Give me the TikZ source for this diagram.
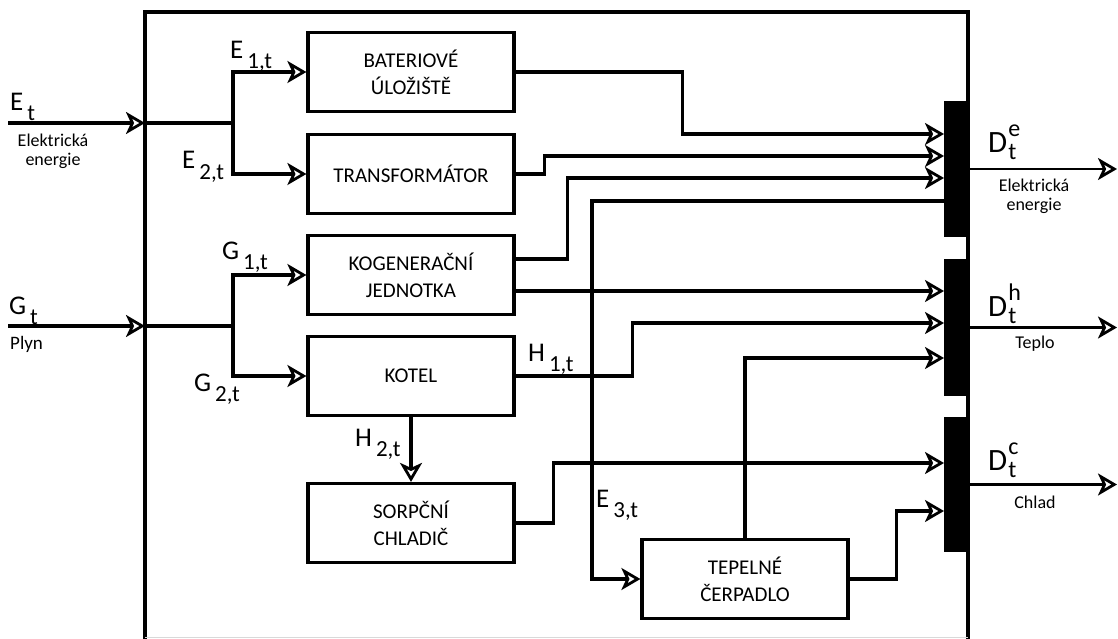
\documentclass[tikz,border=0pt]{standalone}
\usepackage{fontspec}
\setmainfont{Carlito}
\usetikzlibrary{arrows.meta}
\newcommand{\sublab}[2]{{\fontsize{27}{27}\selectfont #1}\hspace{4pt}\raisebox{-10pt}{\fontsize{23}{23}\selectfont #2}}
\newcommand{\dlab}[1]{{\fontsize{31}{31}\selectfont D}\hspace{1pt}\rlap{\raisebox{16pt}{\fontsize{24}{24}\selectfont #1}}\raisebox{-7pt}{\fontsize{24}{24}\selectfont t}}
\begin{document}
\begin{tikzpicture}[x=1pt,y=-1pt,line join=miter,
  box/.style={draw, line width=3.2pt, minimum width=206pt, minimum height=79pt, inner sep=0pt, align=center, font=\fontsize{21}{27}\selectfont},
  bar/.style={fill=black, draw=none, inner sep=0pt, minimum width=24pt},
  tip/.style={-{Stealth[open, length=19pt, width=22pt, inset=5pt, line width=2.8pt]}},
  conn/.style={line width=3.2pt, tip},
  wire/.style={line width=3.2pt},
  outarr/.style={line width=2.6pt, -{Stealth[open, length=19pt, width=22pt, inset=5pt, line width=2.8pt]}},
  lab/.style={inner sep=0pt, anchor=base west},
  small/.style={font=\fontsize{18}{19}\selectfont, align=center, inner sep=0pt, anchor=base}
]
\useasboundingbox (0,0) rectangle (1118,639);
% frame
\draw[wire] (145,639) -- (145,12) -- (968,12) -- (968,639);
\draw[gray!30, line width=1pt] (145,637.5) -- (968,637.5);
% bus bars
\node[bar, minimum height=136pt] (elbar) at (956,169) {};
\node[bar, minimum height=137pt] (heatbar) at (956,327.5) {};
\node[bar, minimum height=135pt] (coldbar) at (956,484.5) {};
% boxes
\node[box] (bat) at (411,72) {BATERIOVÉ\\ÚLOŽIŠTĚ};
\node[box] (trans) at (411,174) {TRANSFORMÁTOR};
\node[box] (kogen) at (411,275) {KOGENERAČNÍ\\JEDNOTKA};
\node[box] (kotel) at (411,376) {KOTEL};
\node[box] (sorp) at (411,523) {SORPČNÍ\\CHLADIČ};
\node[box] (tep) at (745,579) {TEPELNÉ\\ČERPADLO};
% coordinates
\coordinate (ein) at (8,123);
\coordinate (fE) at (145,123);
\coordinate (jE) at (233,123);
\coordinate (gin) at (8,326);
\coordinate (fG) at (145,326);
\coordinate (jG) at (233,326);
\coordinate (e1) at (944,134);
\coordinate (e2) at (944,156);
\coordinate (e3) at (944,178);
\coordinate (e4) at (944,201);
\coordinate (h1) at (944,291);
\coordinate (h2) at (944,323);
\coordinate (h3) at (944,358);
\coordinate (c1) at (944,463);
\coordinate (c2) at (944,511);
\coordinate (oe) at (1117,169);
\coordinate (oh) at (1117,327.5);
\coordinate (oc) at (1117,484.5);
% inputs
\draw[conn] (ein) -- (fE);
\draw[wire] (fE) -- (jE);
\draw[conn] (jE) |- (bat.west);
\draw[conn] (jE) |- (trans.west);
\draw[conn] (gin) -- (fG);
\draw[wire] (fG) -- (jG);
\draw[conn] (jG) |- (kogen.west);
\draw[conn] (jG) |- (kotel.west);
% internal
\draw[conn] (bat.east) -- ++(167,0) |- (e1);
\draw[conn] (trans.east) -- ++(29,0) |- (e2);
\draw[conn] ([yshift=16pt]kogen.east) -- ++(52,0) |- (e3);
\draw[wire, tip] (e4) -- ++(-352,0) |- (tep.west);
\draw[conn] ([yshift=-16pt]kogen.east) -- (h1);
\draw[conn] (kotel.east) -- ++(117,0) |- (h2);
\draw[conn] (tep.north) |- (h3);
\draw[conn] (kotel.south) -- (sorp.north);
\draw[conn] (sorp.east) -- ++(38,0) |- (c1);
\draw[conn] (tep.east) -- ++(47,0) |- (c2);
% outputs
\draw[outarr] (elbar.east) -- (oe);
\draw[outarr] (heatbar.east) -- (oh);
\draw[outarr] (coldbar.east) -- (oc);
% labels
\node[lab] (lEt) at (10,111) {\sublab{E}{t}};
\node[small] (lEl) at (53,166) {Elektrická\\energie};
\node[lab] (lGt) at (9,314) {\sublab{G}{t}};
\node[lab, font=\fontsize{19}{19}\selectfont] (lPl) at (10,349) {Plyn};
\node[lab] (lE1) at (230,59) {\sublab{E}{1,t}};
\node[lab] (lE2) at (182,169) {\sublab{E}{2,t}};
\node[lab] (lG1) at (222,259) {\sublab{G}{1,t}};
\node[lab] (lG2) at (194,391) {\sublab{G}{2,t}};
\node[lab] (lH1) at (528,361) {\sublab{H}{1,t}};
\node[lab] (lH2) at (355,446) {\sublab{H}{2,t}};
\node[lab] (lE3) at (596,507) {\sublab{E}{3,t}};
\node[lab] (lDe) at (988,153) {\dlab{e}};
\node[lab] (lDh) at (988,316) {\dlab{h}};
\node[lab] (lDc) at (988,470) {\dlab{c}};
\node[small] (lEl2) at (1034,211) {Elektrická\\energie};
\node[small] (lTe) at (1035,348) {Teplo};
\node[small] (lCh) at (1035,508) {Chlad};
\end{tikzpicture}
\end{document}
